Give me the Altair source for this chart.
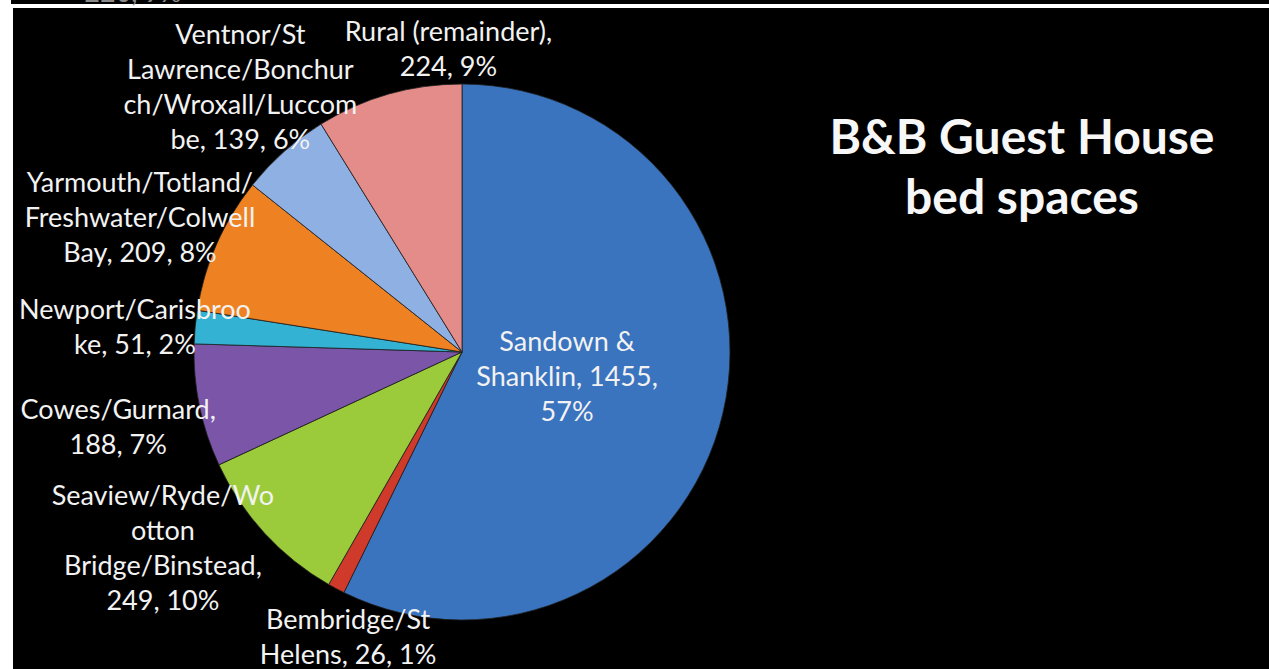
import math
import altair as alt
import pandas as pd

# ---- data ----
names = [
    "Sandown & Shanklin",
    "Bembridge/St Helens",
    "Seaview/Ryde/Wootton Bridge/Binstead",
    "Cowes/Gurnard",
    "Newport/Carisbrooke",
    "Yarmouth/Totland/Freshwater/Colwell Bay",
    "Ventnor/St Lawrence/Bonchurch/Wroxall/Luccombe",
    "Rural (remainder)",
]
values = [1455, 26, 249, 188, 51, 209, 139, 224]
label_texts = [
    "Sandown &\nShanklin, 1455,\n57%",
    "Bembridge/St\nHelens, 26, 1%",
    "Seaview/Ryde/Wo\notton\nBridge/Binstead,\n249, 10%",
    "Cowes/Gurnard,\n188, 7%",
    "Newport/Carisbroo\nke, 51, 2%",
    "Yarmouth/Totland/\nFreshwater/Colwell\nBay, 209, 8%",
    "Ventnor/St\nLawrence/Bonchur\nch/Wroxall/Luccom\nbe, 139, 6%",
    "Rural (remainder),\n224, 9%",
]
colors = ["#3A73BE", "#D03A2A", "#9BCB3A", "#7B55A8", "#33B2D4", "#EE8121", "#8EB0E3", "#E48C8A"]
title_text = "B&B Guest House\nbed spaces"
cut_text = "220, 9%"   # partly visible label of the chart above

# ---- layout (label placement around the pie) ----
CX, CY, R = 449, 344, 268
LINE_H = 35
label_radius = [108, 307, 358, 352, 328, 349, 345, 303]
label_angle_shift = [0.3, -6.2, 9.2, -0.8, -1.0, -1.1, 1.6, 13.3]

total = sum(values)
rows = []
cum = 0
for i, (n, v) in enumerate(zip(names, values)):
    mid = (cum + v / 2) / total * 360 + label_angle_shift[i]
    cum += v
    a = math.radians(mid)
    nlines = label_texts[i].count("\n") + 1
    rows.append({
        "idx": i,
        "name": n,
        "value": v,
        "label": label_texts[i],
        "lx": CX + label_radius[i] * math.sin(a),
        "ly": CY - label_radius[i] * math.cos(a) - (nlines - 1) * LINE_H / 2 + 1,
    })
df = pd.DataFrame(rows)

base = alt.Chart(df)

pie = base.mark_arc(radius=R, stroke="#202020", strokeWidth=0.8).encode(
    theta=alt.Theta("value:Q", stack=True),
    order=alt.Order("idx:Q", sort="ascending"),
    color=alt.Color("name:N", scale=alt.Scale(domain=names, range=colors), legend=None),
    x=alt.value(CX),
    y=alt.value(CY),
)

labels = base.mark_text(
    font="Lato", fontSize=27, color="#F2F2F2", align="center", baseline="middle",
    lineBreak="\n", lineHeight=LINE_H,
).encode(
    x=alt.X("lx:Q", scale=None, axis=None),
    y=alt.Y("ly:Q", scale=None, axis=None),
    text="label:N",
)

title = alt.Chart(pd.DataFrame({"t": [title_text]})).mark_text(
    font="Lato", fontSize=48, fontWeight="bold", color="#F7F7F7", align="center",
    baseline="middle", lineBreak="\n", lineHeight=60,
).encode(
    x=alt.value(1009), y=alt.value(132), text="t:N"
)

# black strip above the white frame line (top of the page)
top_strip = alt.Chart(pd.DataFrame({"k": [0]})).mark_rect(color="black", clip=False).encode(
    x=alt.value(-2), x2=alt.value(1256), y=alt.value(-8), y2=alt.value(-4)
)
cut_label = alt.Chart(pd.DataFrame({"t": [cut_text]})).mark_text(
    font="Lato", fontSize=27, color="#8A8A8A", align="center", baseline="alphabetic", clip=False,
).encode(x=alt.value(120), y=alt.value(-6), text="t:N")

chart = alt.layer(top_strip, cut_label, pie, labels, title).properties(
    width=1256, height=661,
    background="white",
    padding={"left": 13, "top": 8, "right": 0, "bottom": 0},
    autosize=alt.AutoSizeParams(type="none"),
).configure_view(fill="black", stroke="black", strokeWidth=0)

chart.save("out.html", embed_options={"renderer": "svg", "actions": False})
